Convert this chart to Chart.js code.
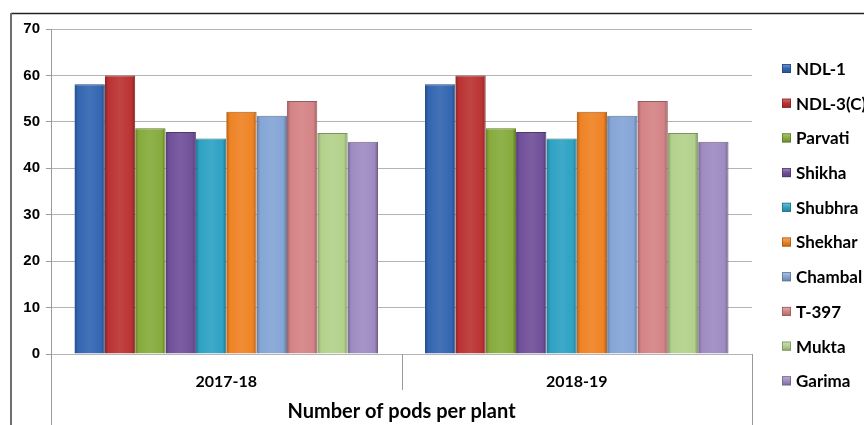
<!DOCTYPE html>
<html>
<head>
<meta charset="utf-8">
<script src="https://cdn.jsdelivr.net/npm/chart.js@4/dist/chart.umd.min.js"></script>
<style>
  html, body { margin: 0; padding: 0; background: #ffffff; }
  #wrap { width: 864px; height: 425px; position: relative; }
</style>
</head>
<body>
<div id="wrap"><canvas id="c"></canvas></div>
<script>
const categories = ['2017-18', '2018-19'];
const varieties = ['NDL-1', 'NDL-3(C)', 'Parvati', 'Shikha', 'Shubhra', 'Shekhar', 'Chambal', 'T-397', 'Mukta', 'Garima'];
const values2017 = [58.1, 60.0, 48.6, 47.8, 46.4, 52.2, 51.3, 54.5, 47.6, 45.7];
const values2018 = [58.1, 60.0, 48.6, 47.8, 46.4, 52.2, 51.3, 54.5, 47.6, 45.7];
const yTicks = [0, 10, 20, 30, 40, 50, 60, 70];
const axisTitle = 'Number of pods per plant';
const colors = ['#3366b2', '#bb3333', '#86ab3c', '#70509a', '#2ea2c3', '#ef8324', '#84a5d6', '#d48385', '#b3d18b', '#9f8bc1'];

const CAT_PCT = 0.866;

function shade(hex, f) {
  const n = parseInt(hex.slice(1), 16);
  let r = (n >> 16) & 255, g = (n >> 8) & 255, b = n & 255;
  if (f < 0) { r = Math.round(r * (1 + f)); g = Math.round(g * (1 + f)); b = Math.round(b * (1 + f)); }
  else { r = Math.round(r + (255 - r) * f); g = Math.round(g + (255 - g) * f); b = Math.round(b + (255 - b) * f); }
  return 'rgb(' + r + ',' + g + ',' + b + ')';
}

function barFill(ctx, dsIndex) {
  const chart = ctx.chart;
  const base = colors[dsIndex];
  const xs = chart.scales && chart.scales.x;
  if (!xs || !chart.chartArea || ctx.dataIndex === undefined) return base;
  const catW = xs.width / categories.length;
  const group = catW * CAT_PCT;
  const bw = group / varieties.length;
  const center = xs.getPixelForValue(ctx.dataIndex);
  const left = center - group / 2 + dsIndex * bw;
  const g = chart.ctx.createLinearGradient(left, 0, left + bw, 0);
  g.addColorStop(0, shade(base, -0.25));
  g.addColorStop(0.12, base);
  g.addColorStop(0.5, shade(base, 0.08));
  g.addColorStop(0.88, base);
  g.addColorStop(1, shade(base, -0.3));
  return g;
}

const datasets = varieties.map((name, i) => ({
  label: name,
  data: [values2017[i], values2018[i]],
  backgroundColor: (ctx) => barFill(ctx, i),
  borderColor: shade(colors[i], -0.3),
  borderWidth: { left: 0, right: 1, top: 1, bottom: 0 },
  borderSkipped: 'bottom',
  barPercentage: 1.0,
  categoryPercentage: CAT_PCT
}));

const framePlugin = {
  id: 'frame',
  afterDraw(chart) {
    const c = chart.ctx;
    const a = chart.chartArea;
    const xs = chart.scales.x;
    c.save();
    c.strokeStyle = '#222222';
    c.lineWidth = 1.5;
    c.beginPath();
    c.moveTo(11, 13.5); c.lineTo(864, 13.5);
    c.stroke();
    c.strokeStyle = '#6f6f6f';
    c.lineWidth = 2;
    c.beginPath();
    c.moveTo(11, 13); c.lineTo(11, 425);
    c.stroke();
    c.strokeStyle = '#9a9a9a';
    c.lineWidth = 1;
    const mid = (xs.getPixelForValue(0) + xs.getPixelForValue(1)) / 2;
    c.beginPath();
    c.moveTo(Math.round(a.left) + 0.5, a.bottom); c.lineTo(Math.round(a.left) + 0.5, 425);
    c.moveTo(Math.round(a.right) + 0.5, a.bottom); c.lineTo(Math.round(a.right) + 0.5, 425);
    c.moveTo(Math.round(mid) + 0.5, a.bottom); c.lineTo(Math.round(mid) + 0.5, 390);
    c.stroke();
    const startY = 68.5, step = 34.7;
    c.font = 'bold 17px Lato';
    c.textBaseline = 'middle';
    c.textAlign = 'left';
    varieties.forEach((name, i) => {
      const y = startY + i * step;
      const sx = 782, s = 9;
      const g = c.createLinearGradient(0, y - s / 2, 0, y + s / 2);
      g.addColorStop(0, shade(colors[i], 0.35));
      g.addColorStop(0.5, colors[i]);
      g.addColorStop(1, shade(colors[i], -0.2));
      c.fillStyle = g;
      c.fillRect(sx, y - s / 2, s, s);
      c.strokeStyle = shade(colors[i], -0.3);
      c.lineWidth = 0.8;
      c.strokeRect(sx + 0.4, y - s / 2 + 0.4, s - 0.8, s - 0.8);
      c.fillStyle = '#000000';
      c.fillText(name, 796, y + 1);
    });
    c.restore();
  }
};

new Chart(document.getElementById('c'), {
  type: 'bar',
  data: { labels: categories, datasets },
  options: {
    responsive: true,
    maintainAspectRatio: false,
    animation: false,
    layout: { padding: { top: 29, right: 112, left: 0, bottom: 0 } },
    plugins: {
      legend: { display: false },
      tooltip: { enabled: false },
      title: { display: false }
    },
    scales: {
      x: {
        offset: true,
        grid: { display: false, drawTicks: false },
        border: { display: false },
        ticks: {
          padding: 18,
          color: '#000000',
          font: { family: 'Lato', weight: 'bold', size: 16 }
        },
        title: {
          display: true,
          text: axisTitle,
          color: '#000000',
          font: { family: 'Lato', weight: 'bold', size: 20 },
          padding: { top: 0, bottom: 1 }
        },
        afterFit(s) { s.height = 71; }
      },
      y: {
        min: 0,
        max: 70,
        afterBuildTicks(s) { s.ticks = yTicks.map(v => ({ value: v })); },
        grid: { color: '#b4b4b4', tickLength: 5, tickColor: '#9a9a9a', lineWidth: 1 },
        border: { display: true, color: '#9a9a9a' },
        ticks: {
          padding: 6,
          color: '#000000',
          font: { family: 'Liberation Sans', weight: 'bold', size: 15 }
        },
        afterFit(s) { s.width = 51; }
      }
    }
  },
  plugins: [framePlugin]
});
</script>
</body>
</html>
